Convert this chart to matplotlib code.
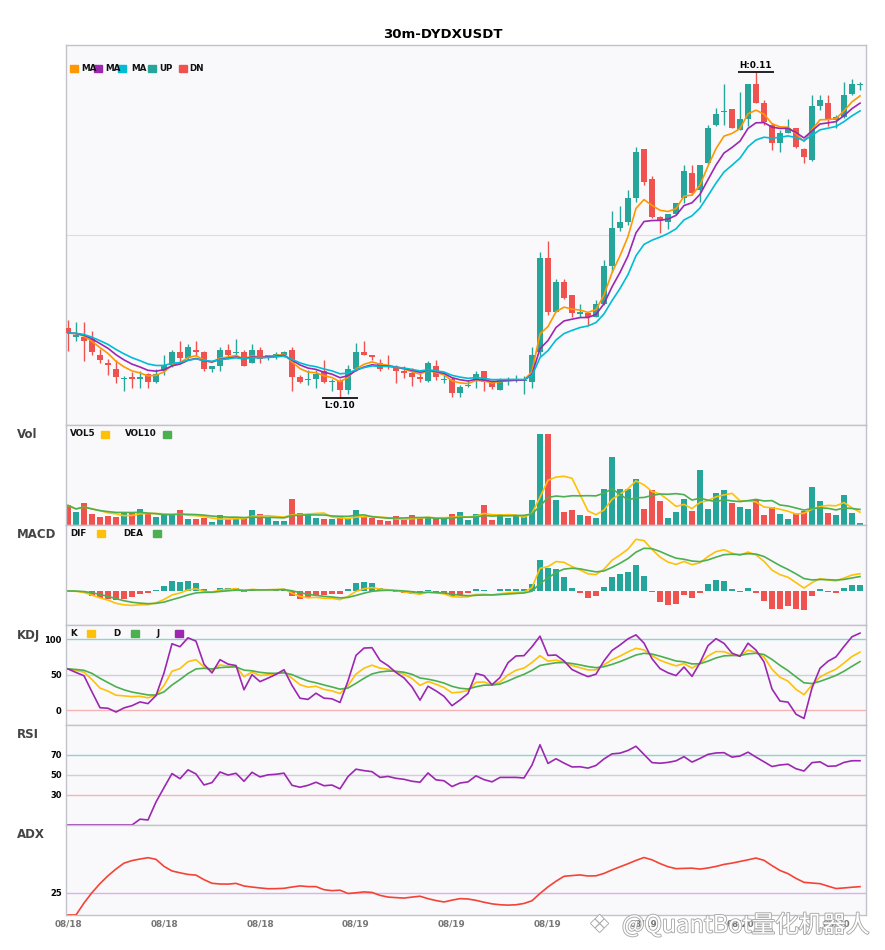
import numpy as np
import pandas as pd
import matplotlib
matplotlib.use("Agg")
import matplotlib.pyplot as plt
from matplotlib.patches import Rectangle
import matplotlib.patheffects as pe

# ---------------- data (30m candles) ----------------
opens = [0.10280, 0.10244, 0.10244, 0.10236, 0.10172, 0.10140, 0.10116, 0.10076, 0.10084, 0.10076,
         0.10096, 0.10064, 0.10108, 0.10132, 0.10184, 0.10160, 0.10192, 0.10184, 0.10116, 0.10128,
         0.10192, 0.10180, 0.10184, 0.10140, 0.10192, 0.10164, 0.10172, 0.10172, 0.10192, 0.10084,
         0.10072, 0.10076, 0.10108, 0.10064, 0.10068, 0.10032, 0.10116, 0.10184, 0.10172, 0.10140,
         0.10132, 0.10124, 0.10108, 0.10100, 0.10084, 0.10068, 0.10128, 0.10072, 0.10076, 0.10020,
         0.10048, 0.10072, 0.10108, 0.10064, 0.10032, 0.10068, 0.10068, 0.10068, 0.10064, 0.10184,
         0.10560, 0.10344, 0.10464, 0.10412, 0.10336, 0.10340, 0.10324, 0.10376, 0.10528, 0.10680,
         0.10704, 0.10800, 0.10996, 0.10876, 0.10724, 0.10704, 0.10736, 0.10800, 0.10900, 0.10832,
         0.10940, 0.11092, 0.11144, 0.11156, 0.11072, 0.11116, 0.11256, 0.11180, 0.11092, 0.11020,
         0.11060, 0.11080, 0.10996, 0.10952, 0.11168, 0.11180, 0.11112, 0.11124, 0.11216, 0.11252]
highs = [0.10312, 0.10304, 0.10304, 0.10268, 0.10196, 0.10156, 0.10152, 0.10088, 0.10104, 0.10108,
         0.10100, 0.10116, 0.10172, 0.10192, 0.10228, 0.10216, 0.10228, 0.10188, 0.10128, 0.10204,
         0.10216, 0.10236, 0.10192, 0.10216, 0.10204, 0.10172, 0.10184, 0.10188, 0.10204, 0.10092,
         0.10112, 0.10112, 0.10152, 0.10076, 0.10076, 0.10132, 0.10220, 0.10228, 0.10172, 0.10156,
         0.10172, 0.10132, 0.10128, 0.10120, 0.10100, 0.10148, 0.10152, 0.10092, 0.10084, 0.10052,
         0.10072, 0.10108, 0.10108, 0.10072, 0.10080, 0.10084, 0.10092, 0.10088, 0.10204, 0.10584,
         0.10628, 0.10476, 0.10476, 0.10412, 0.10376, 0.10340, 0.10392, 0.10552, 0.10748, 0.10768,
         0.10832, 0.11004, 0.10996, 0.10888, 0.10728, 0.10736, 0.10780, 0.10932, 0.10932, 0.10932,
         0.11092, 0.11160, 0.11256, 0.11156, 0.11224, 0.11256, 0.11304, 0.11192, 0.11100, 0.11072,
         0.11116, 0.11080, 0.11000, 0.11212, 0.11212, 0.11212, 0.11132, 0.11264, 0.11276, 0.11264]
lows = [0.10188, 0.10228, 0.10148, 0.10172, 0.10140, 0.10092, 0.10060, 0.10028, 0.10040, 0.10040,
        0.10040, 0.10060, 0.10092, 0.10124, 0.10144, 0.10152, 0.10168, 0.10108, 0.10104, 0.10108,
        0.10164, 0.10168, 0.10128, 0.10140, 0.10140, 0.10152, 0.10156, 0.10164, 0.10028, 0.10060,
        0.10052, 0.10040, 0.10060, 0.10028, 0.10000, 0.10016, 0.10108, 0.10172, 0.10152, 0.10108,
        0.10116, 0.10060, 0.10080, 0.10048, 0.10064, 0.10064, 0.10072, 0.10060, 0.10004, 0.10004,
        0.10044, 0.10040, 0.10028, 0.10036, 0.10032, 0.10052, 0.10064, 0.10016, 0.10040, 0.10168,
        0.10332, 0.10344, 0.10396, 0.10324, 0.10324, 0.10292, 0.10324, 0.10372, 0.10504, 0.10668,
        0.10692, 0.10784, 0.10852, 0.10720, 0.10660, 0.10676, 0.10732, 0.10780, 0.10812, 0.10784,
        0.10936, 0.11088, 0.11092, 0.11080, 0.11072, 0.11088, 0.11180, 0.11092, 0.10992, 0.10984,
        0.11060, 0.11000, 0.10940, 0.10948, 0.11152, 0.11088, 0.11080, 0.11120, 0.11212, 0.11232]
closes = [0.10260, 0.10252, 0.10228, 0.10184, 0.10152, 0.10132, 0.10084, 0.10080, 0.10076, 0.10084,
          0.10064, 0.10096, 0.10132, 0.10184, 0.10160, 0.10204, 0.10184, 0.10116, 0.10128, 0.10192,
          0.10172, 0.10184, 0.10128, 0.10192, 0.10156, 0.10172, 0.10176, 0.10184, 0.10084, 0.10064,
          0.10076, 0.10096, 0.10064, 0.10068, 0.10032, 0.10116, 0.10184, 0.10172, 0.10164, 0.10116,
          0.10124, 0.10108, 0.10100, 0.10084, 0.10076, 0.10140, 0.10084, 0.10076, 0.10020, 0.10044,
          0.10052, 0.10096, 0.10064, 0.10044, 0.10076, 0.10076, 0.10076, 0.10072, 0.10172, 0.10560,
          0.10344, 0.10464, 0.10400, 0.10340, 0.10344, 0.10324, 0.10376, 0.10528, 0.10680, 0.10704,
          0.10800, 0.10984, 0.10864, 0.10724, 0.10712, 0.10736, 0.10780, 0.10908, 0.10820, 0.10932,
          0.11080, 0.11136, 0.11148, 0.11080, 0.11116, 0.11256, 0.11180, 0.11104, 0.11020, 0.11060,
          0.11080, 0.11004, 0.10964, 0.11168, 0.11192, 0.11116, 0.11124, 0.11212, 0.11256, 0.11256]
volumes = [19.5, 12.5, 21.5, 10.5, 7.5, 8.5, 7.5, 12.5, 11.5, 15.5,
           10.5, 7.5, 10.5, 10.5, 14.5, 5.5, 5.5, 6.5, 2.5, 9.5,
           5.5, 7.5, 6.5, 14.5, 10.5, 7.5, 3.5, 3.5, 25.5, 11.5,
           10.5, 6.5, 5.5, 5.5, 7.5, 6.5, 14.5, 7.5, 6.5, 4.5,
           3.5, 8.5, 5.5, 9.5, 7.5, 7.5, 5.5, 6.5, 10.5, 12.5,
           4.5, 10.5, 19.5, 4.5, 10.5, 6.5, 8.5, 8.5, 24.5, 90.5,
           90.5, 24.5, 12.5, 14.5, 9.5, 8.5, 6.5, 35.5, 67.5, 35.5,
           35.5, 45.5, 15.5, 34.5, 23.5, 6.5, 12.5, 25.5, 13.5, 54.5,
           15.5, 31.5, 34.5, 21.5, 17.5, 15.5, 25.5, 9.5, 17.5, 10.5,
           5.5, 11.5, 13.5, 37.5, 23.5, 11.5, 9.5, 29.5, 11.5, 1.5]
tick_pos = [0, 12, 24, 36, 48, 60, 72, 84, 96]
tick_labels = ["08/18", "08/18", "08/18", "08/19", "08/19", "08/19", "08/19", "08/20", "08/20"]
title = "30m-DYDXUSDT"
ma_spans = [5, 8, 12]
macd_params = (6, 13, 5)

# ---------------- styles ----------------
UP, DN = "#26a69a", "#ef5350"
MA_COLORS = ["#ff9800", "#9c27b0", "#00bcd4"]
AMBER, GREEN, PURPLE = "#ffc107", "#4caf50", "#9c27b0"
FACE = "#f9f9fc"
SPINE = "#c2c2ca"
W, H = 885, 950

o = pd.Series(opens); h = pd.Series(highs); l = pd.Series(lows); c = pd.Series(closes)
v = pd.Series(volumes)
n = len(c)
x = np.arange(n)
is_up = (c >= o).values
cols = np.where(is_up, UP, DN)

# ---------------- indicators ----------------
mas = [c.ewm(span=s, adjust=False).mean() for s in ma_spans]
vol5 = v.rolling(5, min_periods=1).mean()
vol10 = v.rolling(10, min_periods=1).mean()

fast, slow, sig = macd_params
dif = c.ewm(span=fast, adjust=False).mean() - c.ewm(span=slow, adjust=False).mean()
dea = dif.ewm(span=sig, adjust=False).mean()
hist = 2 * (dif - dea)

low9 = l.rolling(9, min_periods=1).min()
high9 = h.rolling(9, min_periods=1).max()
rsv = (c - low9) / (high9 - low9) * 100
K = rsv.ewm(com=2, adjust=False).mean()
D = K.ewm(com=2, adjust=False).mean()
J = 3 * K - 2 * D

diff = c.diff()
gain = diff.clip(lower=0)
loss = (-diff).clip(lower=0)
ag = gain.ewm(com=13, adjust=True).mean()
al = loss.ewm(com=13, adjust=True).mean()
rsi = (100 * ag / (ag + al)).fillna(0)

up_move = h.diff()
dn_move = -l.diff()
pdm = pd.Series(np.where((up_move > dn_move) & (up_move > 0), up_move, 0.0))
mdm = pd.Series(np.where((dn_move > up_move) & (dn_move > 0), dn_move, 0.0))
prev_c = c.shift(1)
tr = pd.concat([h - l, (h - prev_c).abs(), (l - prev_c).abs()], axis=1).max(axis=1)
atr = tr.ewm(span=14, adjust=False).mean()
pdi = 100 * pdm.ewm(span=14, adjust=False).mean() / atr
mdi = 100 * mdm.ewm(span=14, adjust=False).mean() / atr
dx = (100 * (pdi - mdi).abs() / (pdi + mdi)).fillna(0)
adx = dx.ewm(span=14, adjust=False).mean()

# ---------------- figure ----------------
fig = plt.figure(figsize=(W / 100, H / 100), dpi=100)
fig.patch.set_facecolor("white")


def add_ax(top, bottom):
    ax = fig.add_axes([66 / W, 1 - bottom / H, 800 / W, (bottom - top) / H])
    ax.set_facecolor(FACE)
    for s in ax.spines.values():
        s.set_color(SPINE)
        s.set_linewidth(1.0)
    ax.set_xlim(-0.25, n - 0.25)
    ax.tick_params(length=0, labelbottom=False, labelleft=False)
    ax.set_xticks([])
    ax.set_yticks([])
    return ax


def fx(px):
    return px / W


def fy(py):
    return 1 - py / H


def square(px, py, color):
    fig.patches.append(Rectangle((fx(px), fy(py + 7)), 8 / W, 7 / H, color=color,
                                 transform=fig.transFigure, figure=fig, zorder=5))


def legend_text(px, py, s):
    fig.text(fx(px), fy(py), s, fontsize=6.3, fontweight="bold", color="#111111",
             va="center", ha="left", zorder=6)


def panel_label(py, s):
    fig.text(fx(17), fy(py), s, fontsize=8.5, fontweight="bold", color="#444444",
             va="center", ha="left")


# main price panel
ax = add_ax(45, 425)
ax.set_ylim(0.09892, 0.11412)
ax.set_yticks([0.10652])
ax.yaxis.grid(True, color="#dcdce2", lw=0.8)
ax.set_axisbelow(True)
ax.vlines(x, l, h, colors=cols, lw=1.0, zorder=2)
body_bottom = np.minimum(o, c)
body_h = np.maximum((c - o).abs(), 0.00005)
ax.bar(x, body_h, 0.75, bottom=body_bottom, color=cols, zorder=3)
for m, col in zip(mas, MA_COLORS):
    ax.plot(x, m, color=col, lw=1.2, zorder=4)
ih = int(np.argmax(highs)); il = int(np.argmin(lows))
ax.hlines(highs[ih], ih - 2.25, ih + 2.25, color="black", lw=1.2, zorder=5)
ax.annotate("H:%.2f" % highs[ih], (ih, highs[ih]), xytext=(0, 1.5), textcoords="offset points",
            ha="center", va="bottom", fontsize=6.3, fontweight="bold")
ax.hlines(lows[il], il - 2.25, il + 2.25, color="black", lw=1.2, zorder=5)
ax.annotate("L:%.2f" % lows[il], (il, lows[il]), xytext=(0, -2), textcoords="offset points",
            ha="center", va="top", fontsize=6.3, fontweight="bold")

fig.text(0.5, fy(34), title, ha="center", va="center", fontsize=9.5, fontweight="bold")

for px_, col in zip([70, 94, 118], MA_COLORS):
    square(px_, 65, col)
legend_text(81, 68.7, "MA")
legend_text(105, 68.7, "MA")
legend_text(131, 68.7, "MA")
square(148, 65, UP); legend_text(159, 68.7, "UP")
square(179, 65, DN); legend_text(189, 68.7, "DN")

# volume panel
axv = add_ax(425, 525)
axv.bar(x, v, 0.75, color=cols, zorder=2)
axv.plot(x, vol5, color=AMBER, lw=1.2, zorder=3)
axv.plot(x, vol10, color=GREEN, lw=1.2, zorder=3)
axv.set_ylim(0, 99.5)
panel_label(435, "Vol")
legend_text(70, 434, "VOL5"); square(101, 430.5, AMBER)
legend_text(125, 434, "VOL10"); square(163, 430.5, GREEN)

# MACD panel
axm = add_ax(525, 625)
axm.bar(x, hist, 0.75, color=np.where(hist >= 0, UP, DN), zorder=2)
axm.plot(x, dif, color=AMBER, lw=1.2, zorder=3)
axm.plot(x, dea, color=GREEN, lw=1.2, zorder=3)
axm.set_ylim(-0.00113, 0.00219)
panel_label(535, "MACD")
legend_text(70, 533.3, "DIF"); square(97, 530, AMBER)
legend_text(123, 533.3, "DEA"); square(153, 530, GREEN)

# KDJ panel
axk = add_ax(625, 725)
axk.set_ylim(-21, 120)
for yv, gc in [(100, "#8fd3cc"), (50, "#d0d0d4"), (0, "#f5b3b3")]:
    axk.axhline(yv, color=gc, lw=1.0, zorder=1)
axk.plot(x, K, color=AMBER, lw=1.2, zorder=3)
axk.plot(x, D, color=GREEN, lw=1.2, zorder=3)
axk.plot(x, J, color=PURPLE, lw=1.2, zorder=3)
axk.set_yticks([0, 50, 100])
axk.tick_params(labelleft=True, length=0, pad=3)
axk.set_yticklabels(["0", "50", "100"], fontsize=6, fontweight="bold")
panel_label(635, "KDJ")
legend_text(70, 633.3, "K"); square(87, 630, AMBER)
legend_text(113, 633.3, "D"); square(131, 630, GREEN)
legend_text(157, 633.3, "J"); square(175, 630, PURPLE)

# RSI panel
axr = add_ax(725, 825)
axr.set_ylim(0, 100)
for yv, gc in [(70, "#8fd3cc"), (50, "#d0d0d4"), (30, "#f5b3b3")]:
    axr.axhline(yv, color=gc, lw=1.0, zorder=1)
axr.plot(x, rsi, color=PURPLE, lw=1.2, zorder=3)
axr.set_yticks([30, 50, 70])
axr.tick_params(labelleft=True, length=0, pad=3)
axr.set_yticklabels(["30", "50", "70"], fontsize=6, fontweight="bold")
panel_label(735, "RSI")

# ADX panel
axa = add_ax(825, 915)
axa.set_ylim(0, 100)
axa.axhline(25, color="#dfb0e4", lw=1.0, zorder=1)
axa.plot(x, adx, color="#f44336", lw=1.2, zorder=3)
axa.set_yticks([25])
axa.tick_params(labelleft=True, length=0, pad=3)
axa.set_yticklabels(["25"], fontsize=6, fontweight="bold")
axa.set_xticks(tick_pos)
axa.set_xticklabels(tick_labels, fontsize=6.4, fontweight="bold", color="#777777")
axa.tick_params(axis="x", labelbottom=True, length=0, pad=3)
panel_label(835, "ADX")

# watermark
stroke = [pe.withStroke(linewidth=1.3, foreground="#a8a8a8")]
fig.text(fx(589), fy(925), "\u2756", fontsize=17, color="white", va="center", ha="left",
         path_effects=stroke, family=["DejaVu Sans"])
fig.text(fx(622), fy(925), "@QuantBot量化机器人", fontsize=17, color="white", va="center",
         ha="left", path_effects=stroke, family=["Noto Sans CJK SC", "DejaVu Sans"])

fig.savefig("out.png", dpi=100, facecolor="white")
